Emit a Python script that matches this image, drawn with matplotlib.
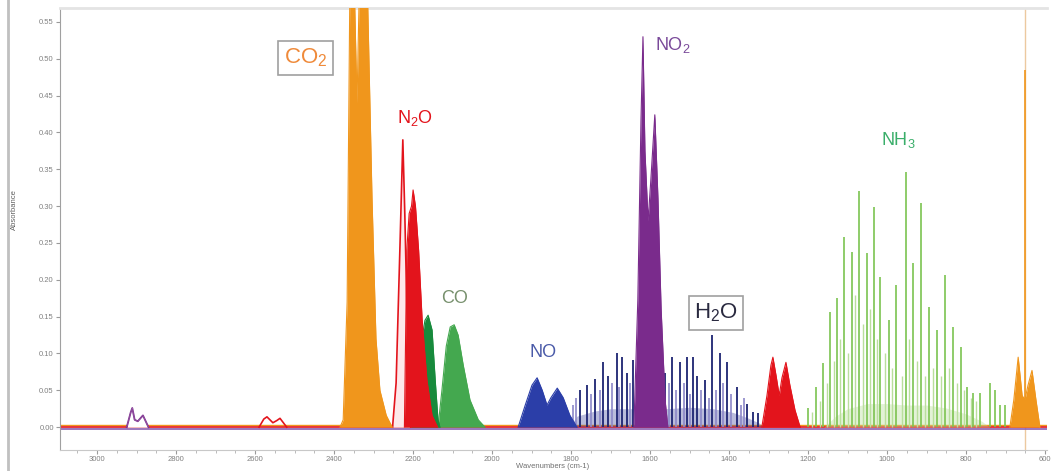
import matplotlib
matplotlib.use("Agg")
import matplotlib.pyplot as plt
from matplotlib.lines import Line2D
from matplotlib.ticker import MultipleLocator

plt.rcParams["font.family"] = ["Liberation Sans", "DejaVu Sans"]
plt.rcParams["mathtext.default"] = "regular"

# ---- band envelopes (wavenumber cm-1, absorbance) ----
co2_wn = [2385, 2377, 2367, 2360, 2355, 2349, 2342, 2336, 2329, 2316, 2304, 2294, 2284, 2268, 2253]
co2_abs = [0.0, 0.01, 0.17, 0.60, 0.62, 0.60, 0.44, 0.60, 0.62, 0.60, 0.31, 0.12, 0.05, 0.016, 0.0]

co2b_wn = [689, 679, 668, 658, 651, 643, 633, 623, 613]
co2b_abs = [0.0, 0.037, 0.095, 0.043, 0.037, 0.057, 0.077, 0.037, 0.0]
co2_q_wn = 651
co2_q_abs = 0.485

n2o_spike_wn = [2252, 2243, 2233, 2226, 2221, 2214, 2206]
n2o_spike_abs = [0.0, 0.06, 0.25, 0.39, 0.29, 0.12, 0.0]
n2o_wn = [2222, 2216, 2210, 2204, 2200, 2194, 2186, 2177, 2165, 2152, 2138]
n2o_abs = [0.0, 0.24, 0.29, 0.30, 0.322, 0.30, 0.24, 0.145, 0.064, 0.016, 0.0]

n2ob_wn = [1317, 1304, 1294, 1289, 1281, 1273, 1266, 1256, 1246, 1233, 1220]
n2ob_abs = [0.0, 0.043, 0.084, 0.095, 0.07, 0.043, 0.067, 0.088, 0.057, 0.023, 0.0]

co_r_wn = [2220, 2208, 2195, 2182, 2170, 2162, 2152, 2144, 2137, 2132]
co_r_abs = [0.0, 0.023, 0.064, 0.105, 0.145, 0.152, 0.132, 0.064, 0.01, 0.0]
co_p_wn = [2137, 2127, 2116, 2106, 2096, 2086, 2073, 2056, 2035, 2018]
co_p_abs = [0.0, 0.05, 0.11, 0.136, 0.139, 0.125, 0.084, 0.037, 0.01, 0.0]

no_wn = [1934, 1916, 1899, 1886, 1873, 1861, 1851, 1835, 1820, 1803, 1785]
no_abs = [0.0, 0.03, 0.057, 0.067, 0.05, 0.03, 0.04, 0.053, 0.04, 0.016, 0.0]

no2_wn = [1641, 1631, 1623, 1618, 1613, 1605, 1598, 1588, 1580, 1572, 1562, 1555]
no2_abs = [0.0, 0.173, 0.417, 0.53, 0.375, 0.28, 0.336, 0.424, 0.31, 0.16, 0.037, 0.0]

ch_wn = [2925, 2915, 2911, 2905, 2897, 2884, 2870]
ch_abs = [0.0, 0.02, 0.026, 0.01, 0.008, 0.016, 0.0]
red_small_wn = [2590, 2578, 2570, 2555, 2545, 2537, 2520]
red_small_abs = [0.0, 0.011, 0.014, 0.006, 0.009, 0.012, 0.0]

# ---- rotational line positions ----
h2o_wn = [1777, 1760, 1739, 1719, 1706, 1684, 1671, 1658, 1643, 1562, 1544, 1524,
          1506, 1491, 1481, 1461, 1443, 1423, 1405, 1380, 1354, 1339, 1327]
h2o_abs = [0.05, 0.057, 0.066, 0.088, 0.07, 0.10, 0.095, 0.073, 0.091, 0.073, 0.095, 0.088,
           0.095, 0.095, 0.07, 0.064, 0.125, 0.10, 0.088, 0.054, 0.032, 0.02, 0.019]
h2o_weak_wn = [1795, 1788, 1750, 1728, 1697, 1678, 1650, 1570, 1553, 1535, 1515, 1500,
               1470, 1452, 1432, 1415, 1395, 1370, 1363]
h2o_weak_abs = [0.03, 0.04, 0.045, 0.05, 0.06, 0.055, 0.06, 0.05, 0.06, 0.05, 0.06, 0.045,
                0.05, 0.04, 0.05, 0.06, 0.045, 0.03, 0.04]
h2o_base_wn = [1805, 1785, 1740, 1700, 1650, 1560, 1500, 1440, 1390, 1350, 1325, 1310]
h2o_base_abs = [0.0, 0.015, 0.022, 0.025, 0.025, 0.025, 0.027, 0.025, 0.02, 0.012, 0.006, 0.0]

nh3_wn = [1200, 1180, 1162, 1144, 1127, 1109, 1089, 1071, 1051, 1033, 1018, 995,
          977, 952, 934, 914, 894, 873, 853, 833, 813, 797, 782, 765, 739, 727, 714, 701]
nh3_abs = [0.026, 0.054, 0.087, 0.156, 0.175, 0.258, 0.238, 0.32, 0.236, 0.299, 0.204, 0.145,
           0.193, 0.347, 0.223, 0.304, 0.163, 0.132, 0.206, 0.136, 0.109, 0.054, 0.046, 0.046,
           0.06, 0.05, 0.03, 0.03]
nh3_weak_wn = [1190, 1170, 1153, 1135, 1118, 1098, 1080, 1062, 1042, 1025, 1005, 987,
               963, 944, 924, 904, 884, 863, 843, 823, 805, 788, 775]
nh3_weak_abs = [0.02, 0.035, 0.06, 0.09, 0.12, 0.10, 0.18, 0.14, 0.16, 0.12, 0.10, 0.08,
                0.07, 0.12, 0.09, 0.07, 0.08, 0.07, 0.08, 0.06, 0.05, 0.04, 0.035]
nh3_base_wn = [1160, 1130, 1100, 1050, 1000, 950, 900, 850, 800, 760, 740]
nh3_base_abs = [0.0, 0.015, 0.025, 0.032, 0.032, 0.03, 0.03, 0.026, 0.018, 0.008, 0.0]

# ---- colours ----
C_CO2 = "#f0961c"
C_N2O = "#e3141c"
C_CO_R = "#178a3c"
C_CO_P = "#44a84f"
C_NO = "#2b3ea8"
C_NO2 = "#7a2b8c"
C_H2O = "#1d2472"
C_H2O_W = "#8c88c8"
C_NH3 = "#7cc350"
C_NH3_W = "#b9df9c"

fig = plt.figure(figsize=(10.59, 4.71), dpi=100)
ax = fig.add_axes([60 / 1059, 21 / 471, 987 / 1059, 442 / 471])
ax.set_xlim(3094, 595)
ax.set_ylim(-0.031, 0.569)


def band(wn, ab, color, z, alpha=1.0, lw=0.8):
    ax.fill_between(wn, 0, ab, color=color, alpha=alpha, lw=0, zorder=z)
    ax.plot(wn, ab, color=color, lw=lw, zorder=z + 0.1)


# baselines
ax.axhline(-0.003, color="#8a5fb0", lw=1.2, zorder=2)
ax.axhline(0.0, color="#e3141c", lw=1.2, zorder=2.2)
ax.axhline(0.003, color="#f0961c", lw=1.0, zorder=2.1)

# unresolved background under the rotational structure
ax.fill_between(nh3_base_wn, 0, nh3_base_abs, color=C_NH3_W, alpha=0.4, lw=0, zorder=2.5)
ax.fill_between(h2o_base_wn, 0, h2o_base_abs, color="#3a3f98", alpha=0.35, lw=0, zorder=2.5)

# weak rotational lines
ax.vlines(nh3_weak_wn, 0, nh3_weak_abs, color=C_NH3_W, lw=1.0, zorder=3)
ax.vlines(h2o_weak_wn, 0, h2o_weak_abs, color=C_H2O_W, lw=1.2, zorder=3)
# strong rotational lines
ax.vlines(nh3_wn, 0, nh3_abs, color=C_NH3, lw=1.2, zorder=4)
ax.vlines(h2o_wn, 0, h2o_abs, color=C_H2O, lw=1.3, zorder=4)

# vibrational bands
band(co_p_wn, co_p_abs, C_CO_P, 5)
band(co_r_wn, co_r_abs, C_CO_R, 5.5)
band(n2o_wn, n2o_abs, C_N2O, 6)
band(n2o_spike_wn, n2o_spike_abs, "#fde8ea", 5.8, lw=0.1)
ax.plot(n2o_spike_wn, n2o_spike_abs, color=C_N2O, lw=1.2, zorder=6.2)
band(co2_wn, co2_abs, C_CO2, 7)
band(co2b_wn, co2b_abs, C_CO2, 7)
band(no_wn, no_abs, C_NO, 5)
band(no2_wn, no2_abs, C_NO2, 6)
band(n2ob_wn, n2ob_abs, C_N2O, 6)
band(ch_wn, ch_abs, "#ffffff", 3, lw=0.1)
ax.plot(ch_wn, ch_abs, color="#7a2b8c", lw=1.3, zorder=3)
ax.plot(red_small_wn, red_small_abs, color=C_N2O, lw=1.2, zorder=3)

# CO2 bending Q branch and cursor line
ax.axvline(co2_q_wn, color="#ecc9a0", lw=1.0, zorder=1)
ax.vlines([co2_q_wn], 0, [co2_q_abs], color=C_CO2, lw=1.2, zorder=7)

# species labels
box = dict(boxstyle="square,pad=0.25", fc="white", ec="#a0a0a0", lw=1.2)
ax.text(2473, 0.501, r"CO$_2$", color="#ef8a3a", fontsize=16, ha="center", va="center",
        bbox=box, zorder=10)
ax.text(2195, 0.42, r"N$_2$O", color=C_N2O, fontsize=13, ha="center", va="center", zorder=10)
ax.text(2094, 0.174, "CO", color="#77906d", fontsize=13, ha="center", va="center", zorder=10)
ax.text(1871, 0.102, "NO", color="#4a5aa8", fontsize=13, ha="center", va="center", zorder=10)
ax.text(1542, 0.519, r"NO$_2$", color="#7a4a9a", fontsize=13, ha="center", va="center", zorder=10)
ax.text(1433, 0.155, r"H$_2$O", color="#2a2a40", fontsize=16, ha="center", va="center",
        bbox=box, zorder=10)
ax.text(972, 0.39, r"NH$_3$", color="#3aae6a", fontsize=13, ha="center", va="center", zorder=10)

# axes styling
ax.xaxis.set_major_locator(MultipleLocator(200))
ax.xaxis.set_minor_locator(MultipleLocator(50))
ax.yaxis.set_major_locator(MultipleLocator(0.05))
ax.yaxis.set_major_formatter(plt.FuncFormatter(lambda v, p: f"{v:.2f}"))
ax.tick_params(axis="both", colors="#9a9a9a", labelcolor="#808080", labelsize=5.5,
               length=3, width=0.8, pad=1.5)
ax.tick_params(axis="x", which="minor", colors="#b0b0b0", length=2)
ax.spines["right"].set_visible(False)
ax.spines["left"].set_color("#a0a0a0")
ax.spines["bottom"].set_color("#c8c8c8")
ax.spines["top"].set_color("#e4e4e4")
ax.spines["top"].set_linewidth(2)
fig.text(553 / 1059, 1 - 466 / 471, "Wavenumbers (cm-1)", fontsize=5.5,
         color="#707070", ha="center", va="center")
fig.text(14 / 1059, 1 - 210 / 471, "Absorbance", rotation=90, fontsize=5.5,
         color="#606060", ha="center", va="center")

# window border on the left
fig.add_artist(Line2D([8 / 1059, 8 / 1059], [0, 1], color="#c0c0c0", lw=2))

fig.savefig("out.png", dpi=100)
